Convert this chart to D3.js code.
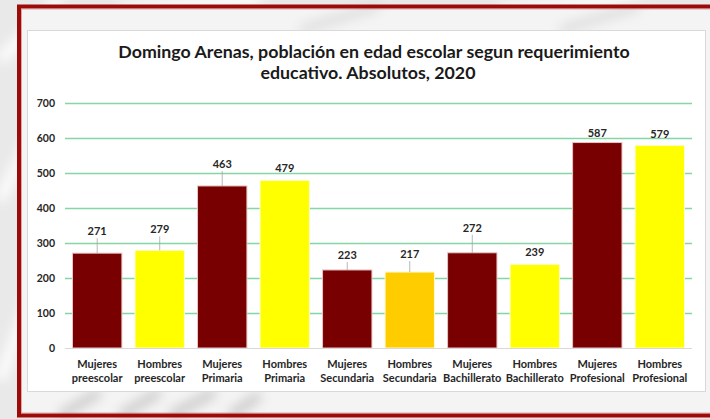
<!DOCTYPE html>
<html>
<head>
<meta charset="utf-8">
<script src="https://cdn.jsdelivr.net/npm/d3@7"></script>
<style>
  html, body { margin: 0; padding: 0; background: #ececec; }
  svg { display: block; }
  text { font-family: Lato, "Open Sans", sans-serif; }
</style>
</head>
<body>
<svg id="chart" width="710" height="419"></svg>
<script>
// ---- data ----
const titleLines = ["Domingo Arenas, población en edad escolar segun requerimiento", "educativo. Absolutos, 2020"];
const categoriesTop = ["Mujeres", "Hombres", "Mujeres", "Hombres", "Mujeres", "Hombres", "Mujeres", "Hombres", "Mujeres", "Hombres"];
const categoriesBottom = ["preescolar", "preescolar", "Primaria", "Primaria", "Secundaria", "Secundaria", "Bachillerato", "Bachillerato", "Profesional", "Profesional"];
const values = [271, 279, 463, 479, 223, 217, 272, 239, 587, 579];
const yTicks = [0, 100, 200, 300, 400, 500, 600, 700];
// label placement (px above bar top), styling only
const labelLift = [22, 21, 22, 12, 15, 18, 25, 12, 10, 11];
const barColors = ["#780000", "#FFFF00", "#780000", "#FFFF00", "#780000", "#FFCC00", "#780000", "#FFFF00", "#780000", "#FFFF00"];

const svg = d3.select("#chart");
const defs = svg.append("defs");
defs.append("filter").attr("id", "blur").append("feGaussianBlur").attr("stdDeviation", 6);

// background
svg.append("rect").attr("width", 710).attr("height", 419).attr("fill", "#e9e9e9");
const bg = svg.append("g").attr("filter", "url(#blur)");
[[0, 60, 60, 0], [0, 200, 40, 120], [0, 380, 30, 300], [120, 10, 260, 0], [500, 10, 640, 0]].forEach(d => {
  bg.append("line").attr("x1", d[0]).attr("y1", d[1]).attr("x2", d[2]).attr("y2", d[3])
    .attr("stroke", "#ffffff").attr("stroke-width", 10);
});
// inside frame
svg.append("rect").attr("x", 19).attr("y", 6).attr("width", 700).attr("height", 410).attr("fill", "#f4f4f4");
const bg2 = svg.append("g").attr("filter", "url(#blur)");
[[60, 416, 100, 392], [120, 416, 160, 392], [170, 416, 215, 392], [230, 416, 260, 395]].forEach(d => {
  bg2.append("line").attr("x1", d[0]).attr("y1", d[1]).attr("x2", d[2]).attr("y2", d[3])
    .attr("stroke", "#c8c8c8").attr("stroke-width", 9);
});
[[300, 30, 380, 6], [560, 30, 640, 6]].forEach(d => {
  bg2.append("line").attr("x1", d[0]).attr("y1", d[1]).attr("x2", d[2]).attr("y2", d[3])
    .attr("stroke", "#dadada").attr("stroke-width", 8);
});
// red frame
svg.append("rect").attr("x", 19).attr("y", 6.5).attr("width", 720).attr("height", 409)
  .attr("fill", "none").attr("stroke", "#9c0a0a").attr("stroke-width", 4);
svg.append("rect").attr("x", 21.5).attr("y", 9).attr("width", 720).attr("height", 404)
  .attr("fill", "none").attr("stroke", "#d27070").attr("stroke-width", 1).attr("opacity", 0.6);

// chart box
svg.append("rect").attr("x", 27.5).attr("y", 30.5).attr("width", 678).attr("height", 361)
  .attr("fill", "#ffffff").attr("stroke", "#d9d9d9").attr("stroke-width", 1);

// helper to fit text width
function fit(sel, target) {
  const w = sel.node().getComputedTextLength();
  const fs = parseFloat(sel.attr("font-size"));
  sel.attr("font-size", (fs * target / w).toFixed(2));
}

// title
const t1 = svg.append("text").attr("x", 374).attr("y", 58).attr("text-anchor", "middle")
  .attr("font-size", 17).attr("font-weight", 700).attr("fill", "#1a1a1a").text(titleLines[0]);
fit(t1, 512);
const fsT = t1.attr("font-size");
svg.append("text").attr("x", 368).attr("y", 79).attr("text-anchor", "middle")
  .attr("font-size", fsT).attr("font-weight", 700).attr("fill", "#1a1a1a").text(titleLines[1]);

// scales
const x = d3.scaleBand().domain(d3.range(values.length)).range([65, 692])
  .paddingInner(0.21).paddingOuter(0.12);
const y = d3.scaleLinear().domain([0, 700]).range([348, 103]);

// gridlines
svg.append("g").selectAll("line").data(yTicks.filter(d => d > 0)).join("line")
  .attr("x1", 65).attr("x2", 692).attr("y1", d => y(d) + 0.5).attr("y2", d => y(d) + 0.5)
  .attr("stroke", "#84d6a4").attr("stroke-width", 1.4);

// y axis
const yAxis = svg.append("g").attr("transform", "translate(65,0)")
  .call(d3.axisLeft(y).tickValues(yTicks).tickSize(0).tickPadding(10));
yAxis.select(".domain").remove();
yAxis.selectAll("text").attr("font-size", 10.5).attr("font-weight", 700).attr("fill", "#262626")
  .attr("font-family", "Lato, sans-serif");

// bars
svg.append("g").selectAll("rect").data(values).join("rect")
  .attr("x", (d, i) => x(i)).attr("width", x.bandwidth())
  .attr("y", d => y(d)).attr("height", d => y(0) - y(d))
  .attr("fill", (d, i) => barColors[i])
  .attr("stroke", (d, i) => barColors[i] === "#780000" ? "#e8c4c4" : "#fffbd0").attr("stroke-width", 1);

// baseline
svg.append("line").attr("x1", 65).attr("x2", 692).attr("y1", 348.5).attr("y2", 348.5)
  .attr("stroke", "#d9d9d9").attr("stroke-width", 1);

// leader lines and labels
const lab = svg.append("g");
values.forEach((v, i) => {
  const cx = x(i) + x.bandwidth() / 2;
  const top = y(v);
  const ly = top - labelLift[i];
  if (labelLift[i] > 14) {
    lab.append("line").attr("x1", cx).attr("x2", cx).attr("y1", ly + 7).attr("y2", top)
      .attr("stroke", "#a6a6a6").attr("stroke-width", 0.8);
  }
  lab.append("text").attr("x", cx).attr("y", ly + 4).attr("text-anchor", "middle")
    .attr("font-size", 11).attr("font-weight", 700).attr("fill", "#262626").text(v);
});

// category labels
const cat = svg.append("g");
values.forEach((v, i) => {
  const cx = x(i) + x.bandwidth() / 2;
  cat.append("text").attr("x", cx).attr("y", 368).attr("text-anchor", "middle")
    .attr("font-size", 11).attr("font-weight", 700).attr("fill", "#262626").text(categoriesTop[i]);
  cat.append("text").attr("x", cx).attr("y", 382).attr("text-anchor", "middle")
    .attr("font-size", 11).attr("font-weight", 700).attr("fill", "#262626").text(categoriesBottom[i]);
});
</script>
</body>
</html>
